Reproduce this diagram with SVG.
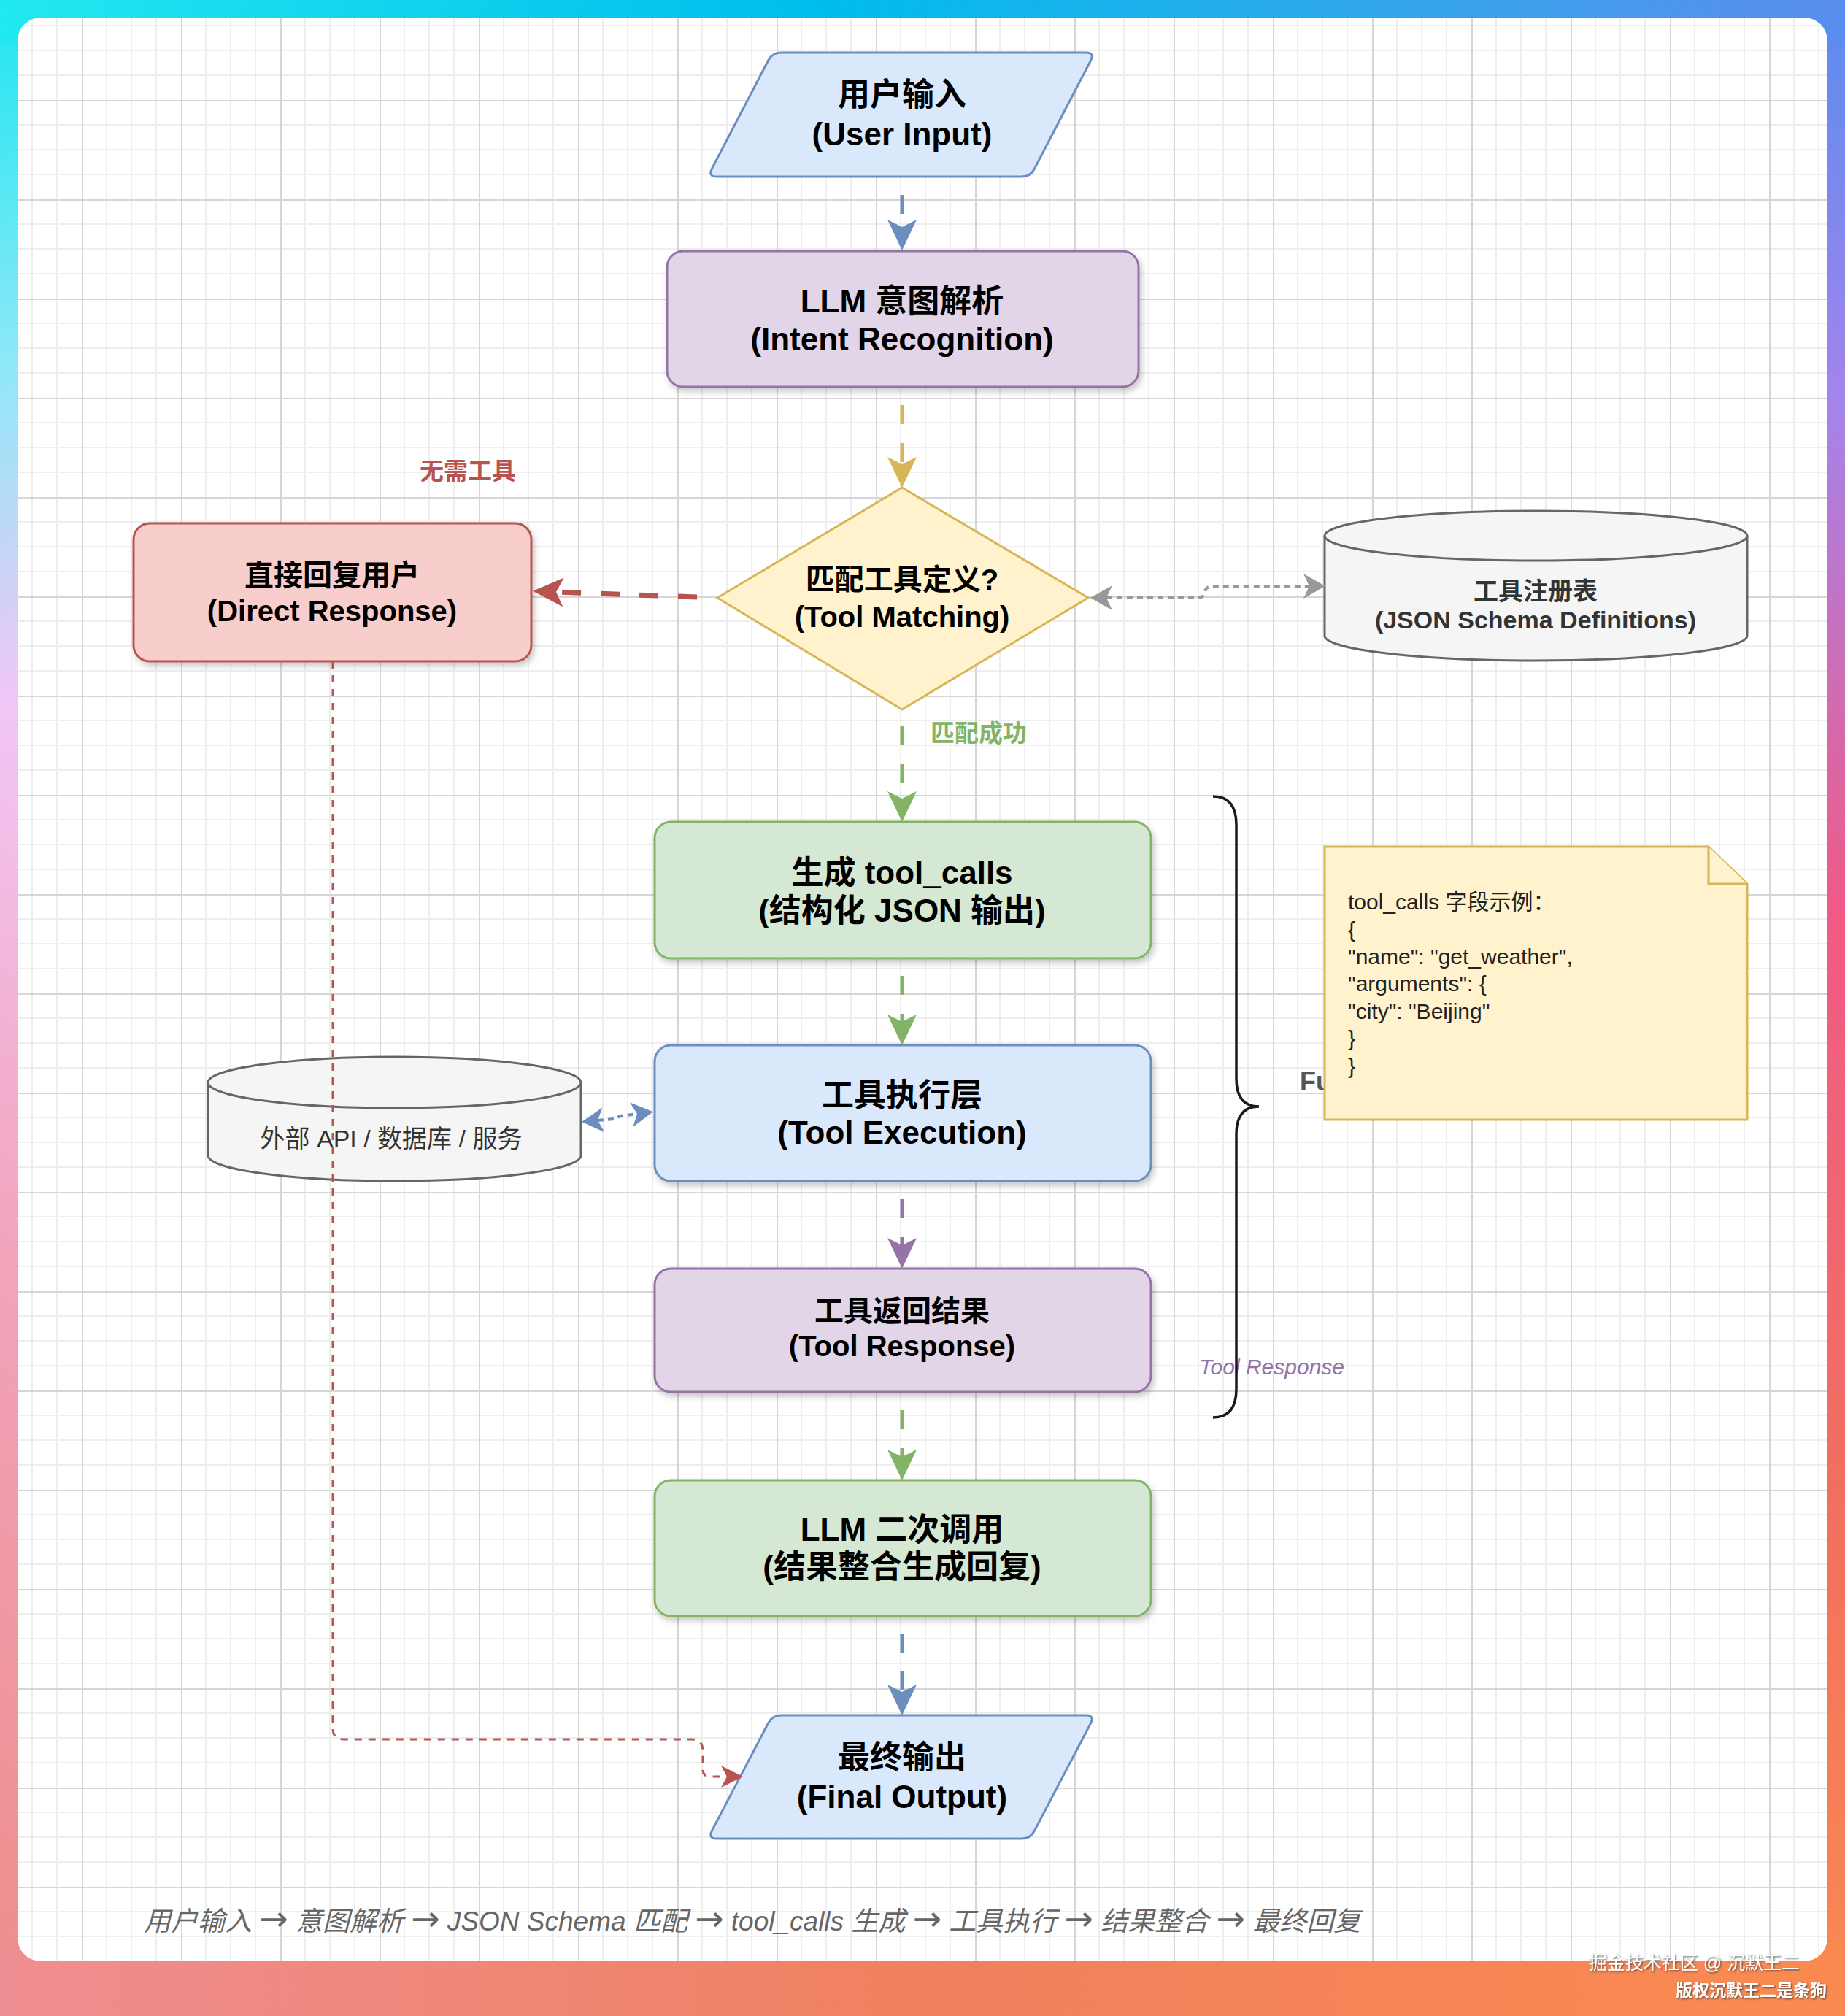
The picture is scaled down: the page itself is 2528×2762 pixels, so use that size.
<svg xmlns="http://www.w3.org/2000/svg" width="2528" height="2762" viewBox="0 0 2528 2762">
<defs>
<linearGradient id="gL" x1="0" y1="0" x2="0" y2="1">
<stop offset="0" stop-color="#1de6ef"/>
<stop offset="0.18" stop-color="#8ee8f8"/>
<stop offset="0.35" stop-color="#f2c6f6"/>
<stop offset="0.62" stop-color="#f2a4bc"/>
<stop offset="1" stop-color="#ee8c88"/>
</linearGradient>
<linearGradient id="gR" x1="0" y1="0" x2="0" y2="1">
<stop offset="0" stop-color="#5a8cee"/>
<stop offset="0.2" stop-color="#a484ec"/>
<stop offset="0.45" stop-color="#f05a86"/>
<stop offset="0.75" stop-color="#f2705e"/>
<stop offset="1" stop-color="#fa8a52"/>
</linearGradient>
<linearGradient id="gMask" x1="0" y1="0" x2="1" y2="0">
<stop offset="0" stop-color="#000"/>
<stop offset="0.45" stop-color="#000"/>
<stop offset="0.8" stop-color="#fff"/>
<stop offset="1" stop-color="#fff"/>
</linearGradient>
<mask id="mR"><rect width="2528" height="2762" fill="url(#gMask)"/></mask>
<linearGradient id="gTop" x1="0" y1="0" x2="1" y2="0">
<stop offset="0" stop-color="#22e8f0"/>
<stop offset="0.45" stop-color="#00bcec"/>
<stop offset="0.8" stop-color="#3aa2ec"/>
<stop offset="1" stop-color="#5a8cee"/>
</linearGradient>
<linearGradient id="gBot" x1="0" y1="0" x2="1" y2="0">
<stop offset="0" stop-color="#ef8e92"/>
<stop offset="0.5" stop-color="#f0805e"/>
<stop offset="1" stop-color="#fb8a50"/>
</linearGradient>
<pattern id="grid" patternUnits="userSpaceOnUse" x="112" y="137" width="136" height="136">
<rect width="136" height="136" fill="#ffffff"/>
<path d="M34 0V136M68 0V136M102 0V136M0 34H136M0 68H136M0 102H136" stroke="#eeeeee" stroke-width="2"/>
<path d="M1 0V136M0 1H136" stroke="#d6d6d6" stroke-width="2"/>
</pattern>
<filter id="sh" x="-10%" y="-15%" width="125%" height="150%">
<feDropShadow dx="3" dy="5" stdDeviation="4" flood-color="#000" flood-opacity="0.22"/>
</filter>
<filter id="wm" x="-5%" y="-30%" width="115%" height="170%">
<feDropShadow dx="1.5" dy="1.5" stdDeviation="1" flood-color="#444" flood-opacity="0.85"/>
</filter>
<marker id="aBlue" markerUnits="userSpaceOnUse" markerWidth="44" markerHeight="42" refX="10" refY="20" orient="auto" overflow="visible"><path d="M0,0 L42,20 L0,40 L10,20 Z" fill="#6c8ebf"/></marker>
<marker id="aGold" markerUnits="userSpaceOnUse" markerWidth="44" markerHeight="42" refX="10" refY="20" orient="auto" overflow="visible"><path d="M0,0 L42,20 L0,40 L10,20 Z" fill="#d6b656"/></marker>
<marker id="aGreen" markerUnits="userSpaceOnUse" markerWidth="44" markerHeight="42" refX="10" refY="20" orient="auto" overflow="visible"><path d="M0,0 L42,20 L0,40 L10,20 Z" fill="#82b366"/></marker>
<marker id="aPurple" markerUnits="userSpaceOnUse" markerWidth="44" markerHeight="42" refX="10" refY="20" orient="auto" overflow="visible"><path d="M0,0 L42,20 L0,40 L10,20 Z" fill="#9673a6"/></marker>
<marker id="aRed" markerUnits="userSpaceOnUse" markerWidth="44" markerHeight="42" refX="10" refY="20" orient="auto" overflow="visible"><path d="M0,0 L42,20 L0,40 L10,20 Z" fill="#b85450"/></marker>
<marker id="sGray" markerUnits="userSpaceOnUse" markerWidth="32" markerHeight="36" refX="8" refY="17" orient="auto-start-reverse" overflow="visible"><path d="M0,0 L30,17 L0,34 L8,17 Z" fill="#999999"/></marker>
<marker id="sBlue" markerUnits="userSpaceOnUse" markerWidth="32" markerHeight="36" refX="8" refY="17" orient="auto-start-reverse" overflow="visible"><path d="M0,0 L30,17 L0,34 L8,17 Z" fill="#6c8ebf"/></marker>
<marker id="sRed" markerUnits="userSpaceOnUse" markerWidth="32" markerHeight="32" refX="8" refY="15" orient="auto" overflow="visible"><path d="M0,0 L30,15 L0,30 L8,15 Z" fill="#b85450"/></marker>
<style>
text{font-family:"Liberation Sans","Noto Sans CJK SC",sans-serif;}
.t44{font-size:44px;font-weight:bold;fill:#000;text-anchor:middle;}
.t40{font-size:40px;font-weight:bold;fill:#000;text-anchor:middle;}
.t34{font-size:34px;font-weight:bold;fill:#333;text-anchor:middle;}
.lbl{font-size:33px;font-weight:bold;}
.note{font-size:30px;fill:#222;}
.blue{fill:#dae8fc;stroke:#6c8ebf;stroke-width:3;}
.purple{fill:#e1d5e7;stroke:#9673a6;stroke-width:3;}
.green{fill:#d5e8d4;stroke:#82b366;stroke-width:3;}
.red{fill:#f8cecc;stroke:#b85450;stroke-width:3;}
.gold{fill:#fff2cc;stroke:#d6b656;stroke-width:3;}
.cyl{fill:#f5f5f5;stroke:#666666;stroke-width:3;}
.flow{fill:none;stroke-width:5;stroke-dasharray:26 26;}
.wm{fill:#ffffff;filter:url(#wm);text-anchor:end;}
.arr{font-family:"DejaVu Sans",sans-serif;font-style:normal;font-size:47px;}
</style>
</defs>

<!-- background frame -->
<rect width="2528" height="2762" fill="url(#gL)"/>
<rect width="2528" height="2762" fill="url(#gR)" mask="url(#mR)"/>
<rect x="0" y="0" width="2528" height="60" fill="url(#gTop)"/>
<rect x="0" y="2660" width="2528" height="102" fill="url(#gBot)"/>
<rect x="24" y="24" width="2480" height="2663" rx="32" fill="url(#grid)"/>

<!-- nodes -->
<g id="user-input">
<path class="blue" d="M1070,72 H1488 Q1500,72 1494.5,83 L1417.5,231 Q1412,242 1400,242 H982 Q970,242 975.5,231 L1052.5,83 Q1058,72 1070,72 Z"/>
<text class="t44" x="1236" y="145">用户输入</text>
<text class="t44" x="1236" y="199">(User Input)</text>
</g>

<g id="intent">
<rect class="purple" x="914" y="344" width="646" height="186" rx="22" filter="url(#sh)"/>
<text class="t44" x="1236" y="428">LLM 意图解析</text>
<text class="t44" x="1236" y="480">(Intent Recognition)</text>
</g>

<g id="tool-matching">
<path class="gold" d="M1236,668 L1491,819 L1236,972 L983,819 Z"/>
<text class="t40" x="1236" y="808">匹配工具定义?</text>
<text class="t40" x="1236" y="859">(Tool Matching)</text>
</g>

<g id="direct-response">
<rect class="red" x="183" y="717" width="545" height="189" rx="22" filter="url(#sh)"/>
<text class="t40" x="455" y="802">直接回复用户</text>
<text class="t40" x="455" y="851">(Direct Response)</text>
</g>

<g id="tool-registry">
<path class="cyl" d="M1815,734 A289.5,34 0 0 1 2394,734 V871 A289.5,34 0 0 1 1815,871 Z"/>
<path class="cyl" fill="none" d="M1815,734 A289.5,34 0 0 0 2394,734"/>
<text class="t34" x="2104" y="822">工具注册表</text>
<text class="t34" x="2104" y="861">(JSON Schema Definitions)</text>
</g>

<g id="gen-tool-calls">
<rect class="green" x="897" y="1126" width="680" height="187" rx="22" filter="url(#sh)"/>
<text class="t44" x="1236" y="1211">生成 tool_calls</text>
<text class="t44" x="1236" y="1263">(结构化 JSON 输出)</text>
</g>

<g id="tool-execution">
<rect class="blue" x="897" y="1432" width="680" height="186" rx="22" filter="url(#sh)"/>
<text class="t44" x="1236" y="1516">工具执行层</text>
<text class="t44" x="1236" y="1567">(Tool Execution)</text>
</g>

<g id="external-api">
<path class="cyl" d="M285,1483 A255.5,35 0 0 1 796,1483 V1583 A255.5,35 0 0 1 285,1583 Z"/>
<path class="cyl" fill="none" d="M285,1483 A255.5,35 0 0 0 796,1483"/>
<text x="536" y="1572" font-size="34" fill="#333" text-anchor="middle">外部 API / 数据库 / 服务</text>
</g>

<g id="tool-response">
<rect class="purple" x="897" y="1738" width="680" height="169" rx="22" filter="url(#sh)"/>
<text class="t40" x="1236" y="1810">工具返回结果</text>
<text class="t40" x="1236" y="1858">(Tool Response)</text>
</g>

<g id="llm-second">
<rect class="green" x="897" y="2028" width="680" height="186" rx="22" filter="url(#sh)"/>
<text class="t44" x="1236" y="2111">LLM 二次调用</text>
<text class="t44" x="1236" y="2162">(结果整合生成回复)</text>
</g>

<g id="final-output">
<path class="blue" d="M1070,2350 H1488 Q1500,2350 1494.5,2361 L1417.5,2508 Q1412,2519 1400,2519 H982 Q970,2519 975.5,2508 L1052.5,2361 Q1058,2350 1070,2350 Z"/>
<text class="t44" x="1236" y="2423">最终输出</text>
<text class="t44" x="1236" y="2477" font-size="41">(Final Output)</text>
</g>

<!-- annotation: brace and labels -->
<g id="annotation">
<text x="1643" y="1883" font-size="30" font-style="italic" fill="#9673a6">Tool Response</text>
<text x="1781" y="1494" font-size="36" font-weight="bold" fill="#555555">Fu</text>
<path d="M1662,1091 Q1694,1091 1694,1130 V1478 Q1694,1516 1725,1516 Q1694,1516 1694,1554 V1903 Q1694,1942 1662,1942" fill="none" stroke="#1a1a1a" stroke-width="3.5"/>
</g>

<g id="note">
<path class="gold" d="M1815,1160 H2341 L2394,1211 V1534 H1815 Z"/>
<path class="gold" fill="none" d="M2341,1160 V1211 H2394"/>
<text class="note" x="1847" y="1246">tool_calls 字段示例：</text>
<text class="note" x="1847" y="1284">{</text>
<text class="note" x="1847" y="1321">"name": "get_weather",</text>
<text class="note" x="1847" y="1358">"arguments": {</text>
<text class="note" x="1847" y="1396">"city": "Beijing"</text>
<text class="note" x="1847" y="1433">}</text>
<text class="note" x="1847" y="1471">}</text>
</g>

<!-- connectors -->
<g id="connectors">
<path class="flow" stroke="#6c8ebf" d="M1236,267 V311" marker-end="url(#aBlue)"/>
<path class="flow" stroke="#d6b656" d="M1236,555 V636" marker-end="url(#aGold)"/>
<path class="flow" stroke="#82b366" d="M1236,995 V1094" marker-end="url(#aGreen)"/>
<path class="flow" stroke="#82b366" d="M1236,1337 V1400" marker-end="url(#aGreen)"/>
<path class="flow" stroke="#9673a6" d="M1236,1643 V1706" marker-end="url(#aPurple)"/>
<path class="flow" stroke="#82b366" d="M1236,1932 V1996" marker-end="url(#aGreen)"/>
<path class="flow" stroke="#6c8ebf" d="M1236,2238 V2318" marker-end="url(#aBlue)"/>
<path d="M955,818 L762,811" fill="none" stroke="#b85450" stroke-width="7" stroke-dasharray="26 27" marker-end="url(#aRed)"/>
<path d="M1516,819 H1640 Q1650,819 1651,811 Q1652,803 1662,803 H1794" fill="none" stroke="#999999" stroke-width="4" stroke-dasharray="8 6" marker-start="url(#sGray)" marker-end="url(#sGray)"/>
<path d="M819,1535 L842,1533 L850,1529 L873,1526" fill="none" stroke="#6c8ebf" stroke-width="4" stroke-dasharray="8 6" marker-start="url(#sBlue)" marker-end="url(#sBlue)"/>
<path d="M456,906 V2368 Q456,2383 471,2383 H948 Q962,2383 963,2397 V2424 Q963,2434 973,2434 H996" fill="none" stroke="#b85450" stroke-width="3" stroke-dasharray="10 9" marker-end="url(#sRed)"/>
<text class="lbl" x="641" y="657" fill="#b85450" text-anchor="middle">无需工具</text>
<text class="lbl" x="1275" y="1016" fill="#82b366">匹配成功</text>
</g>

<!-- caption -->
<text x="197" y="2645" font-size="37" font-style="italic" fill="#666666">用户输入 <tspan class="arr">→</tspan> 意图解析 <tspan class="arr">→</tspan> JSON Schema 匹配 <tspan class="arr">→</tspan> tool_calls 生成 <tspan class="arr">→</tspan> 工具执行 <tspan class="arr">→</tspan> 结果整合 <tspan class="arr">→</tspan> 最终回复</text>

<!-- watermark -->
<text class="wm" x="2466" y="2698" font-size="25">掘金技术社区 @ 沉默王二</text>
<text class="wm" x="2503" y="2735" font-size="23" font-weight="bold">版权沉默王二是条狗</text>
</svg>
